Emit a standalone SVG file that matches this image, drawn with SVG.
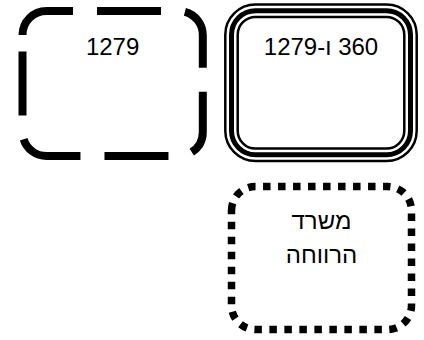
<svg xmlns="http://www.w3.org/2000/svg" width="424" height="340" viewBox="0 0 424 340">
<style>
  .lbl { font-family: "Liberation Sans", "DejaVu Sans", sans-serif; font-size: 24px; fill: #000; text-anchor: middle; }
  .shape { fill: #fff; stroke: #000; }
</style>
<rect width="424" height="340" fill="#fff"/>
<g id="node-1279">
  <path class="shape" d="M22.5,35 A24,24 0 0 1 46.5,11 H178.8 A24,24 0 0 1 202.8,35 V132 A24,24 0 0 1 178.8,156 H46.5 A24,24 0 0 1 22.5,132 Z" stroke-width="8" stroke-dasharray="64 24"/>
  <text class="lbl" x="112.6" y="55">1279</text>
</g>
<g id="node-360">
  <rect class="shape" x="225.3" y="4.6" width="191.4" height="156.4" rx="30.2" stroke-width="2.5"/>
  <rect x="231.5" y="10.8" width="179" height="144" rx="24" fill="none" stroke="#000" stroke-width="5"/>
  <rect x="237.7" y="17" width="166.6" height="131.6" rx="17.8" fill="none" stroke="#000" stroke-width="2.5"/>
  <text class="lbl" x="321" y="55" direction="rtl">360 ו-1279</text>
</g>
<g id="node-misrad">
  <path class="shape" d="M231.5,210.5 A24,24 0 0 1 255.5,186.5 H387.5 A24,24 0 0 1 411.5,210.5 V305.5 A24,24 0 0 1 387.5,329.5 H255.5 A24,24 0 0 1 231.5,305.5 Z" stroke-width="7.5" stroke-dasharray="7.5 7.5"/>
  <text class="lbl" x="321.5" y="229" direction="rtl">משרד</text>
  <text class="lbl" x="321.5" y="263" direction="rtl">הרווחה</text>
</g>
<g id="connectors"></g>
</svg>
